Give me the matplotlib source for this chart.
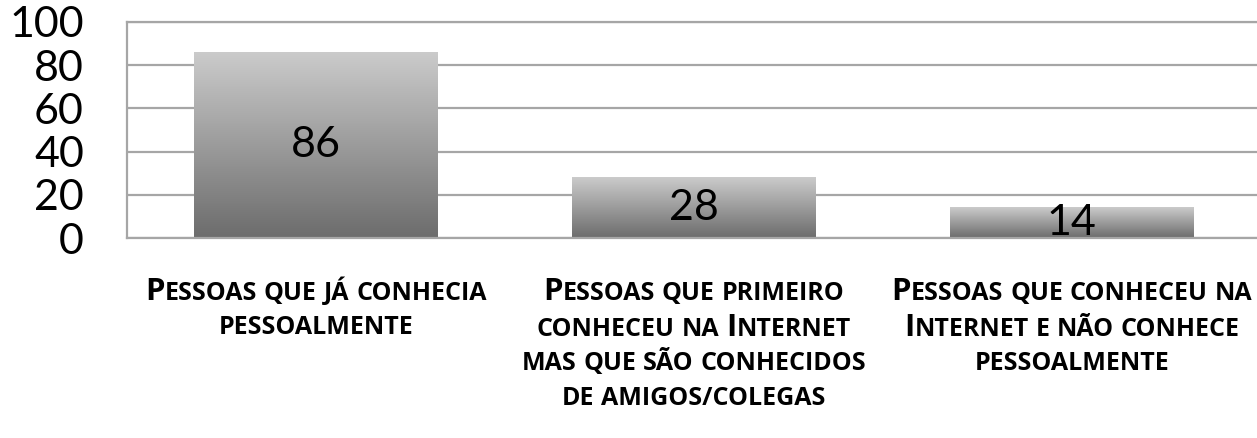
import numpy as np
import matplotlib
matplotlib.use("Agg")
import matplotlib.pyplot as plt
from matplotlib.colors import LinearSegmentedColormap
from matplotlib.offsetbox import TextArea, HPacker, AnnotationBbox

categories = [
    "Pessoas que já conhecia\npessoalmente",
    "Pessoas que primeiro\nconheceu na Internet\nmas que são conhecidos\nde amigos/colegas",
    "Pessoas que conheceu na\nInternet e não conhece\npessoalmente",
]
values = [86, 28, 14]
yticks = [0, 20, 40, 60, 80, 100]

plt.rcParams['font.family'] = ['Lato', 'DejaVu Sans']

BIG = 22.5
SMALL = 18
SPACE = 5.0
LABEL_FONT = ['Open Sans', 'DejaVu Sans']


def smallcaps_line(line):
    # fake small caps: real capitals big, the rest upper-cased and smaller
    words = []
    for w in line.split(' '):
        runs = []
        for ch in w:
            big = ch.isupper()
            if runs and runs[-1][1] == big:
                runs[-1][0] += ch
            else:
                runs.append([ch, big])
        kids = [TextArea(t.upper(), textprops=dict(fontsize=BIG if b else SMALL,
                                                   fontweight='bold', color='black',
                                                   family=LABEL_FONT))
                for t, b in runs]
        words.append(HPacker(children=kids, align='baseline', pad=0, sep=0))
    return HPacker(children=words, align='baseline', pad=0, sep=SPACE)


fig = plt.figure(figsize=(12.57, 4.38), dpi=100)
ax = fig.add_axes([0.101, 0.4566, 0.902, 0.4932])

x = np.arange(len(values))
bars = ax.bar(x, values, width=0.645, color='none', zorder=2)

cmap = LinearSegmentedColormap.from_list('g', ['#cbcbcb', '#6c6c6c'])
grad = np.linspace(0, 1, 256).reshape(-1, 1)
for p, v in zip(bars.patches, values):
    x0 = p.get_x()
    ax.imshow(grad, extent=(x0, x0 + p.get_width(), 0, p.get_height()),
              aspect='auto', cmap=cmap, origin='upper', zorder=2)
    ax.text(x0 + p.get_width() / 2, v / 2, str(v), ha='center', va='center',
            fontsize=31, color='black', zorder=3)

ax.set_xlim(-0.5, len(values) - 0.5)
ax.set_ylim(0, 100)
ax.set_yticks(yticks)
ax.set_yticklabels([str(t) for t in yticks], fontsize=31)
ax.tick_params(axis='y', length=0, pad=31)
ax.set_xticks([])
ax.yaxis.grid(True, color='#a6a6a6', linewidth=1.6, zorder=0)
ax.set_axisbelow(True)
for s in ax.spines.values():
    s.set_color('#a6a6a6')
    s.set_linewidth(1.6)

# category labels below the axis
line_gap = 35.5
for i, cat in enumerate(categories):
    for j, line in enumerate(cat.split('\n')):
        ab = AnnotationBbox(smallcaps_line(line), (i, 438 - 292 - j * line_gap),
                            xycoords=('data', 'figure pixels'),
                            box_alignment=(0.5, 0.5), frameon=False, pad=0,
                            annotation_clip=False)
        ax.add_artist(ab)

fig.savefig('out.png', dpi=100)
